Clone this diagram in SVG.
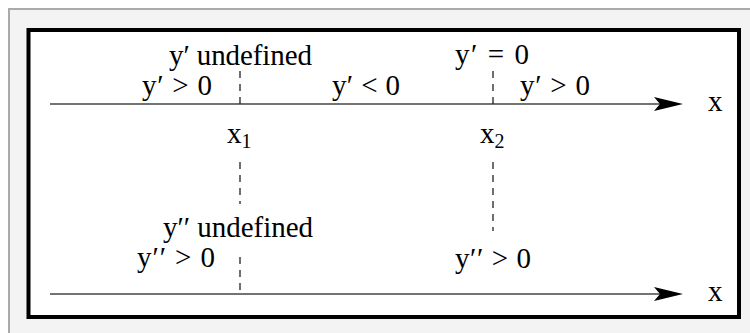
<svg xmlns="http://www.w3.org/2000/svg" width="750" height="333" viewBox="0 0 750 333">
<style>
.t{font-family:"Liberation Serif","Times New Roman",serif;font-size:29px;fill:#000}
.ax{stroke:#444;stroke-width:1.4;fill:none}
.dash{stroke:#222;stroke-width:1.3;stroke-dasharray:7 6;fill:none}
.sub{font-size:20px}
</style>
<defs>
<path id="ah" d="M0,0 L-29,-7 L-23,0 L-29,7 Z" fill="#000"/>
</defs>
<rect x="0" y="0" width="750" height="333" fill="#fff"/>
<rect x="9" y="9" width="750" height="340" fill="#f3f3f3" stroke="#aaa" stroke-width="2"/>
<rect x="28.5" y="30" width="710.5" height="287" fill="#fff" stroke="#000" stroke-width="4"/>
<g id="connectors">
<line class="ax" x1="50" y1="104" x2="662" y2="104"/>
<use href="#ah" x="683" y="104"/>
<line class="ax" x1="50" y1="294" x2="662" y2="294"/>
<use href="#ah" x="683" y="294"/>
<line class="dash" x1="240" y1="71" x2="240" y2="109"/>
<line class="dash" x1="240" y1="162" x2="240" y2="204"/>
<line class="dash" x1="240" y1="257" x2="240" y2="294"/>
<line class="dash" x1="493" y1="71" x2="493" y2="109"/>
<line class="dash" x1="493" y1="162" x2="493" y2="231"/>
</g>
<g id="labels-top">
<text class="t" x="169" y="65" textLength="143" lengthAdjust="spacing">y′ undefined</text>
<text class="t" x="142" y="95" textLength="70" lengthAdjust="spacing">y′ &gt; 0</text>
<text class="t" x="332" y="95" textLength="68" lengthAdjust="spacing">y′ &lt; 0</text>
<text class="t" x="455" y="64" textLength="74" lengthAdjust="spacing">y′ = 0</text>
<text class="t" x="520" y="95" textLength="70" lengthAdjust="spacing">y′ &gt; 0</text>
<text class="t" x="708" y="111">x</text>
</g>
<g id="x1">
<text class="t" x="227" y="143">x<tspan class="sub" dy="5">1</tspan></text>
</g>
<g id="x2">
<text class="t" x="480" y="143">x<tspan class="sub" dy="5">2</tspan></text>
</g>
<g id="labels-bottom">
<text class="t" x="163" y="237" textLength="150" lengthAdjust="spacing">y′′ undefined</text>
<text class="t" x="137" y="267" textLength="78" lengthAdjust="spacing">y′′ &gt; 0</text>
<text class="t" x="455" y="268" textLength="76" lengthAdjust="spacing">y′′ &gt; 0</text>
<text class="t" x="708" y="301">x</text>
</g>
</svg>
